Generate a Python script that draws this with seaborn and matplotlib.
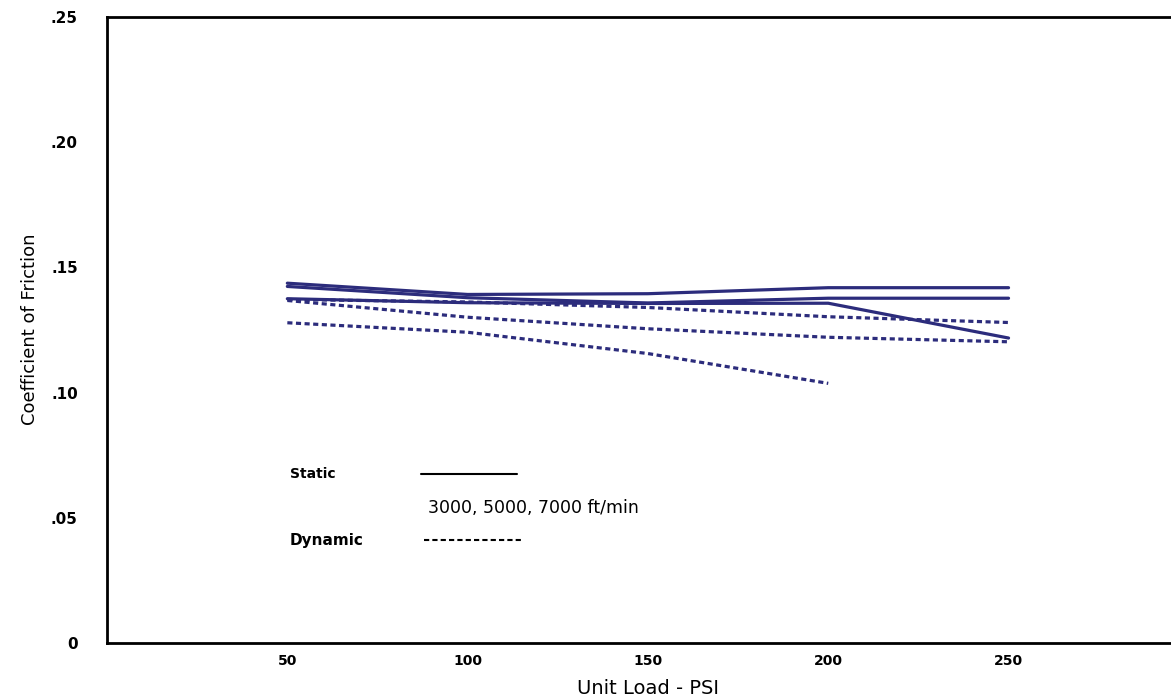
import pandas as pd
import matplotlib
matplotlib.use("Agg")
import matplotlib.pyplot as plt
import seaborn as sns

# Unit load (psi) and coefficient of friction
loads = [50, 100, 150, 200, 250]

static_a = [0.1437, 0.1392, 0.1395, 0.1419, 0.1419]
static_b = [0.1424, 0.1379, 0.1358, 0.1377, 0.1377]
static_c = [0.1375, 0.1359, 0.1356, 0.1357, 0.1218]

dynamic_a = [0.1372, 0.1362, 0.1340, 0.1303, 0.1280]
dynamic_b = [0.1368, 0.1301, 0.1255, 0.1221, 0.1203]
dynamic_c_loads = [50, 100, 150, 200]
dynamic_c = [0.1279, 0.1241, 0.1156, 0.1037]

y_ticks = [0, 0.05, 0.10, 0.15, 0.20, 0.25]
y_tick_labels = ["0", ".05", ".10", ".15", ".20", ".25"]

navy = "#2c2c7c"

# build a long table for seaborn
rows = []
for name, kind, xs, ys in [
    ("sa", "Static", loads, static_a),
    ("sb", "Static", loads, static_b),
    ("sc", "Static", loads, static_c),
    ("da", "Dynamic", loads, dynamic_a),
    ("db", "Dynamic", loads, dynamic_b),
    ("dc", "Dynamic", dynamic_c_loads, dynamic_c),
]:
    for x, y in zip(xs, ys):
        rows.append({"load": x, "cof": y, "series": name, "kind": kind})
df = pd.DataFrame(rows)

sns.set_style("white")
plt.rcParams["font.family"] = ["DejaVu Sans"]
plt.rcParams["text.color"] = "black"

fig = plt.figure(figsize=(11.71, 7), dpi=100)
# axes run off the right edge of the picture, like the scanned original
ax = fig.add_axes([0.0914, 0.0814, 0.93, 0.8943])

sns.lineplot(data=df, x="load", y="cof", units="series", estimator=None,
             style="kind", dashes={"Static": "", "Dynamic": (1.6, 1.1)},
             color=navy, linewidth=2.3, legend=False, sort=False, ax=ax)

ax.set_xlim(0, 302)
ax.set_ylim(0, 0.25)
ax.set_xticks(loads)
ax.set_xticklabels([str(v) for v in loads], fontsize=10, fontweight="bold")
ax.set_yticks(y_ticks)
ax.set_yticklabels(y_tick_labels, fontsize=11, fontweight="bold")
ax.tick_params(direction="inout", length=10, width=1.5, colors="black")
ax.tick_params(axis="x", pad=3)
ax.tick_params(axis="y", pad=16)
ax.set_xlabel("")
ax.set_ylabel("")

for side in ["left", "top", "bottom"]:
    ax.spines[side].set_linewidth(2)
    ax.spines[side].set_color("black")
ax.spines["right"].set_visible(False)

# hand-drawn style legend
ax.text(0.168, 0.27, "Static", transform=ax.transAxes, fontsize=10,
        fontweight="bold", va="center")
ax.plot([0.288, 0.376], [0.27, 0.27], transform=ax.transAxes,
        color="black", linewidth=1.5)
ax.text(0.295, 0.2157, "3000, 5000, 7000 ft/min", transform=ax.transAxes,
        fontsize=12.5, va="center")
ax.text(0.168, 0.1645, "Dynamic", transform=ax.transAxes, fontsize=11,
        fontweight="bold", va="center")
ax.plot([0.291, 0.382], [0.1645, 0.1645], transform=ax.transAxes,
        color="black", linewidth=1.5, linestyle=(0, (2.5, 1.5)))

fig.text(0.026, 0.529, "Coefficient of Friction", rotation=90,
         ha="center", va="center", fontsize=13, color="black")
fig.text(0.553, 0.016, "Unit Load - PSI", ha="center", va="center",
         fontsize=14, color="black")

fig.savefig("out.png", dpi=100)
